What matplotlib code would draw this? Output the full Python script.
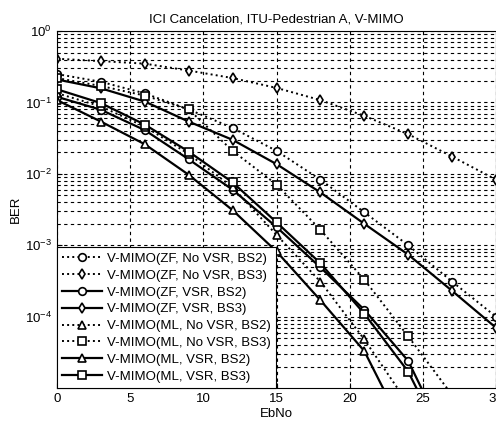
import numpy as np
import matplotlib
matplotlib.use("Agg")
import matplotlib.pyplot as plt

plt.rcParams['font.family'] = ['Liberation Sans', 'DejaVu Sans']

# EbNo points
ebno = [0, 3, 6, 9, 12, 15, 18, 21, 24, 27, 30]

# BER values
zf_novsr_bs2 = [0.25, 0.195, 0.134, 0.080, 0.044, 0.021, 0.0083, 0.0029, 0.001, 3.1e-4, 1.0e-4]
zf_novsr_bs3 = [0.41, 0.38, 0.35, 0.28, 0.22, 0.16, 0.108, 0.065, 0.036, 0.0175, 0.0083]
zf_vsr_bs2 = [0.12, 0.079, 0.041, 0.016, 0.006, 0.0018, 4.9e-4, 1.25e-4, 2.4e-5, 1.3e-6]
zf_vsr_bs3 = [0.21, 0.158, 0.103, 0.054, 0.030, 0.0137, 0.0055, 0.002, 7.4e-4, 2.3e-4, 7e-5]
ml_novsr_bs2 = [0.135, 0.088, 0.046, 0.019, 0.0065, 0.0014, 3.1e-4, 4.8e-5, 6e-6]
ml_novsr_bs3 = [0.22, 0.17, 0.125, 0.08, 0.021, 0.0071, 0.00165, 3.3e-4, 5.3e-5, 8e-6]
ml_vsr_bs2 = [0.108, 0.054, 0.026, 0.0097, 0.0031, 8.2e-4, 1.7e-4, 3.3e-5, 2e-6]
ml_vsr_bs3 = [0.153, 0.098, 0.049, 0.0205, 0.0076, 0.0021, 5.6e-4, 1.1e-4, 1.7e-5, 1e-6]

series = [
    (zf_novsr_bs2, ':', 'o', 'V-MIMO(ZF, No VSR, BS2)'),
    (zf_novsr_bs3, ':', 'd', 'V-MIMO(ZF, No VSR, BS3)'),
    (zf_vsr_bs2, '-', 'o', 'V-MIMO(ZF, VSR, BS2)'),
    (zf_vsr_bs3, '-', 'd', 'V-MIMO(ZF, VSR, BS3)'),
    (ml_novsr_bs2, ':', '^', 'V-MIMO(ML, No VSR, BS2)'),
    (ml_novsr_bs3, ':', 's', 'V-MIMO(ML, No VSR, BS3)'),
    (ml_vsr_bs2, '-', '^', 'V-MIMO(ML, VSR, BS2)'),
    (ml_vsr_bs3, '-', 's', 'V-MIMO(ML, VSR, BS3)'),
]

fig = plt.figure(figsize=(4.96, 4.26), dpi=100)
ax = fig.add_axes([0.115, 0.089, 0.885, 0.838])

for vals, ls, mk, lab in series:
    lw = 1.6 if ls == '-' else 1.4
    ax.semilogy(ebno[:len(vals)], vals, linestyle=ls, marker=mk, color='black',
                markerfacecolor='white', markeredgecolor='black', markersize=5.5,
                markeredgewidth=1.2, linewidth=lw, label=lab)

ax.set_xlim(0, 30)
ax.set_ylim(1e-5, 1)
ax.set_xticks([0, 5, 10, 15, 20, 25, 30])
ax.set_yticks([1e0, 1e-1, 1e-2, 1e-3, 1e-4])
ax.grid(True, which='major', axis='x', linestyle=(0, (3, 3)), color='black', linewidth=0.8)
ax.grid(True, which='both', axis='y', linestyle=(0, (3, 3)), color='black', linewidth=0.8)
ax.tick_params(which='both', direction='in', labelsize=9.5)
ax.tick_params(which='minor', left=False)

ax.set_title('ICI Cancelation, ITU-Pedestrian A, V-MIMO', fontsize=9.5, pad=6)
ax.set_xlabel('EbNo', fontsize=9.5, labelpad=2)
ax.set_ylabel('BER', fontsize=9.5, labelpad=2)

leg = ax.legend(loc='lower left', fontsize=9.5, frameon=True, fancybox=False,
                edgecolor='black', framealpha=1, borderaxespad=0,
                handlelength=3, labelspacing=0.35, borderpad=0.4, handletextpad=0.4)
leg.get_frame().set_linewidth(0.8)

fig.savefig('out.png', dpi=100)
